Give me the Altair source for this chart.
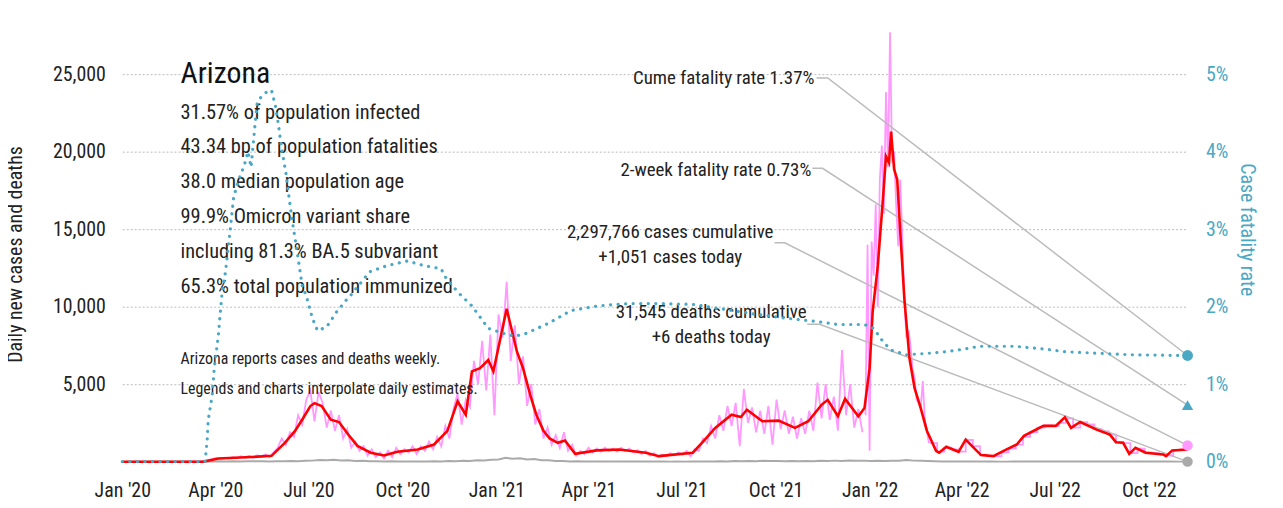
import altair as alt
import pandas as pd

FONT = "'Roboto Condensed', 'DejaVu Sans Condensed', 'Liberation Sans Narrow', 'Arial Narrow', Roboto, sans-serif"
TEAL = "#4aa8c4"
PINK = "#ff99ff"
RED = "#ff0000"
GRAY = "#aaaaaa"
LEADER = "#bbbbbb"
INK = "#222222"

# ---------------- data ----------------
red_dates = ["2020-01-01", "2020-03-20", "2020-04-04", "2020-05-06", "2020-05-26", "2020-06-08",
             "2020-06-18", "2020-06-26", "2020-07-03", "2020-07-07", "2020-07-14", "2020-07-23",
             "2020-07-31", "2020-08-09", "2020-08-18", "2020-08-31", "2020-09-13", "2020-09-26",
             "2020-10-16", "2020-11-01", "2020-11-14", "2020-11-24", "2020-12-02", "2020-12-08",
             "2020-12-16", "2020-12-24", "2020-12-29", "2021-01-11", "2021-01-21", "2021-01-27",
             "2021-02-03", "2021-02-09", "2021-02-16", "2021-02-22", "2021-03-02", "2021-03-09",
             "2021-03-19", "2021-04-09", "2021-05-01", "2021-05-27", "2021-06-09", "2021-07-12",
             "2021-07-21", "2021-08-03", "2021-08-19", "2021-08-28", "2021-09-03", "2021-09-18",
             "2021-10-04", "2021-10-20", "2021-11-02", "2021-11-15", "2021-11-21", "2021-12-01",
             "2021-12-08", "2021-12-21", "2021-12-27", "2022-01-01", "2022-01-04", "2022-01-09",
             "2022-01-14", "2022-01-17", "2022-01-20", "2022-01-22", "2022-01-25", "2022-01-28",
             "2022-01-31", "2022-02-04", "2022-02-09", "2022-02-14", "2022-02-20", "2022-02-26",
             "2022-03-07", "2022-03-10", "2022-03-17", "2022-03-29", "2022-04-05", "2022-04-11",
             "2022-04-20", "2022-05-02", "2022-05-15", "2022-05-25", "2022-06-01", "2022-06-20",
             "2022-07-02", "2022-07-11", "2022-07-17", "2022-07-26", "2022-08-11", "2022-08-24",
             "2022-08-30", "2022-09-06", "2022-09-12", "2022-09-18", "2022-09-28", "2022-10-15",
             "2022-10-18", "2022-10-24", "2022-11-08"]
red_values = [0, 0, 210, 300, 380, 1220,
              1990, 2820, 3590, 3780, 3590, 2710,
              2560, 1750, 1020, 580, 400, 640,
              790, 1110, 1990, 3900, 3030, 5830,
              6030, 6560, 5830, 9870, 7110, 6030,
              4310, 3030, 1990, 1500, 1220, 1370,
              510, 730, 790, 580, 360, 580,
              1220, 2180, 3030, 2880, 3350, 2610,
              2650, 2180, 2610, 3670, 3990, 2930,
              4060, 2930, 3460, 6030, 9680, 12630,
              16920, 19700, 19300, 21300, 18850, 18200,
              14800, 10500, 6670, 4740, 3460, 2000,
              700, 580, 960, 640, 1430, 1020,
              430, 360, 790, 1110, 1670, 2310,
              2310, 2860, 2180, 2560, 2070, 1750,
              1260, 1220, 510, 900, 580, 470,
              360, 730, 790]

# raw daily cases, sampled every 4 days from 2020-03-01
pinkA_values = [0, 0, 0, 5, 20, 60, 120, 170, 240, 180,
                260, 200, 290, 230, 350, 260, 390, 240, 420, 330,
                480, 300, 600, 900, 1500, 1100, 1900, 1600, 3000, 2400,
                4000, 4600, 2600, 4500, 3800, 2200, 3300, 2000, 3000, 1500,
                2100, 900, 1300, 700, 1000, 400, 800, 300, 600, 200,
                700, 300, 900, 500, 800, 600, 1000, 500, 1000, 700,
                1300, 800, 1600, 1000, 2300, 1500, 3400, 4400, 2400, 4000,
                3500, 6500, 5000, 7800, 4600, 8200, 3000, 9500, 8000, 11600,
                6500, 8800, 5000, 6800, 3600, 5000, 2400, 3400, 1500, 2200,
                1100, 1700, 900, 1900, 700, 1100, 400, 700, 500, 900,
                600, 850, 650, 900, 700, 850, 650, 900, 700, 850,
                600, 750, 500, 700, 400, 550, 300, 450, 350, 550,
                400, 600, 450, 700, 350, 800, 700, 1500, 1200, 2300,
                1500, 3000, 2000, 3600, 2300, 3800, 1000, 4700, 2500, 3500,
                1900, 3300, 1800, 3600, 1100, 4000, 2100, 3300, 1800, 2900,
                1500, 2800, 1800, 3300, 2000, 5100, 2800, 5000, 2700, 4200,
                2000, 7200, 3000, 5000, 2200, 3400, 1900]
# raw daily cases every 2 days from 2021-12-28 (Omicron wave)
pinkB_values = [3000, 14000, 700, 14200, 12000, 16600, 10000, 18200, 20400, 16000,
                23850, 19000, 27700, 19300, 20000, 16500, 13900, 18200, 14400, 10500,
                8000, 8500, 7500, 6000, 5400, 4000, 3800, 3460, 5200, 2800,
                2000, 1200]
# weekly reported cases (daily estimate) from 2022-03-01
pinkC_values = [1200, 650, 900, 800, 650, 1400, 1000, 450, 380, 350,
                600, 850, 1100, 1600, 1900, 2200, 2350, 2300, 2500, 2800,
                2200, 2550, 2400, 2100, 1950, 1750, 1250, 1200, 550, 850,
                600, 550, 500, 400, 750, 800, 1051]
# daily deaths, weekly samples from 2020-01-05
deaths_values = [0, 0, 0, 0, 0, 0, 0, 0,
                 0, 0, 0, 5, 15, 25, 20, 30, 20, 35,
                 25, 30, 20, 35, 30, 45, 35, 60, 70, 110,
                 90, 120, 80, 90, 50, 60, 30, 35, 15, 25,
                 10, 20, 10, 20, 15, 25, 20, 40, 35, 60,
                 50, 90, 80, 120, 150, 250, 190, 230, 150, 170,
                 100, 90, 50, 40, 20, 25, 10, 15, 10, 15,
                 10, 15, 10, 12, 8, 12, 8, 12, 6, 10,
                 6, 10, 8, 15, 12, 25, 20, 40, 30, 50,
                 35, 55, 40, 50, 35, 45, 30, 45, 35, 55,
                 45, 70, 50, 80, 60, 70, 50, 60, 45, 65,
                 60, 110, 70, 60, 40, 30,
                 20, 18, 15, 12, 10, 10, 8, 8, 6, 6,
                 8, 10, 12, 12, 15, 15, 18, 18, 20, 20,
                 18, 15, 15, 12, 12, 10, 10, 10, 8, 8,
                 8, 7, 7, 6, 6]

cfr_dates = ["2020-01-01", "2020-03-22", "2020-03-24", "2020-03-25", "2020-03-29", "2020-03-31",
             "2020-04-04", "2020-04-06", "2020-04-08", "2020-04-11", "2020-04-16", "2020-04-19",
             "2020-04-24", "2020-04-29", "2020-05-03", "2020-05-06", "2020-05-10", "2020-05-12",
             "2020-05-16", "2020-05-23", "2020-05-26", "2020-05-30", "2020-06-02", "2020-06-05",
             "2020-06-09", "2020-06-12", "2020-06-15", "2020-06-20", "2020-06-25", "2020-06-29",
             "2020-07-05", "2020-07-10", "2020-07-19", "2020-07-29", "2020-08-08", "2020-08-11",
             "2020-08-30", "2020-09-16", "2020-10-06", "2020-10-22", "2020-11-08", "2020-11-11",
             "2020-11-24", "2020-12-08", "2020-12-24", "2021-01-09", "2021-01-19", "2021-01-29",
             "2021-02-20", "2021-03-15", "2021-04-10", "2021-05-10", "2021-06-10", "2021-07-12",
             "2021-08-10", "2021-09-08", "2021-10-12", "2021-11-10", "2021-12-01", "2021-12-27",
             "2022-01-05", "2022-01-14", "2022-01-22", "2022-02-06", "2022-03-01", "2022-03-17",
             "2022-04-02", "2022-04-19", "2022-05-05", "2022-05-22", "2022-06-07", "2022-06-23",
             "2022-07-10", "2022-07-26", "2022-08-11", "2022-09-13", "2022-11-08"]
cfr_values = [0, 0, 0.27, 0.53, 0.86, 1.21,
              1.63, 1.94, 2.23, 2.45, 3.04, 3.42,
              3.64, 3.81, 4.0, 3.8, 4.37, 4.63,
              4.71, 4.79, 4.79, 4.58, 4.32, 4.03,
              3.73, 3.42, 3.13, 2.71, 2.27, 2.14,
              1.85, 1.69, 1.74, 1.94, 2.10, 2.14,
              2.45, 2.53, 2.59, 2.53, 2.49, 2.40,
              2.19, 2.01, 1.72, 1.65, 1.62, 1.65,
              1.78, 1.95, 2.01, 2.04, 2.04, 2.03,
              1.97, 1.91, 1.85, 1.81, 1.77, 1.77,
              1.72, 1.55, 1.44, 1.38, 1.40, 1.42,
              1.45, 1.49, 1.49, 1.49, 1.47, 1.45,
              1.42, 1.41, 1.40, 1.38, 1.37]

last_date = "2022-11-08"
cume_cfr = 1.37
two_week_cfr = 0.73
cases_today = 1051
deaths_today = 6

x_tick_dates = ["2020-01-01", "2020-04-01", "2020-07-01", "2020-10-01",
                "2021-01-01", "2021-04-01", "2021-07-01", "2021-10-01",
                "2022-01-01", "2022-04-01", "2022-07-01", "2022-10-01"]

stats_lines = ["31.57% of population infected",
               "43.34 bp of population fatalities",
               "38.0 median population age",
               "99.9% Omicron variant share",
               "including 81.3% BA.5 subvariant",
               "65.3% total population immunized"]
note_lines = ["Arizona reports cases and deaths weekly.",
              "Legends and charts interpolate daily estimates."]

# ---------------- helpers ----------------
def ms(d):
    return int(pd.Timestamp(d, tz="UTC").timestamp() * 1000)

def series(start, freq, values):
    dates = pd.date_range(start, periods=len(values), freq=freq).strftime("%Y-%m-%d")
    return pd.DataFrame({"date": list(dates), "value": values})

YMAX = 30000
CFR_MAX = 6.0
to_left = YMAX / CFR_MAX  # percent -> left-axis units

red_df = pd.DataFrame({"date": red_dates, "value": red_values})
pinkA_df = series("2020-03-01", "4D", pinkA_values)
pinkB_df = series("2021-12-28", "2D", pinkB_values)
pinkC_df = series("2022-03-01", "7D", pinkC_values)
deaths_df = series("2020-01-05", "7D", deaths_values)
cfr_df = pd.DataFrame({"date": cfr_dates, "value": [v / 100 for v in cfr_values]})

x_enc = alt.X("date:T",
              scale=alt.Scale(type="utc", domain=[ms("2020-01-01"), ms(last_date)]),
              axis=alt.Axis(values=[ms(d) for d in x_tick_dates], format="%b '%y",
                            labelFontSize=20, labelColor=INK, labelPadding=19,
                            labelFlush=False, labelOverlap=False,
                            ticks=False, domain=False, grid=False, title=None))

left_axis = alt.Axis(values=[5000, 10000, 15000, 20000, 25000, 30000], format=",.0f",
                     labelFontSize=20, labelColor=INK, labelPadding=17,
                     ticks=False, domain=False, grid=True, gridColor="#bbbbbb",
                     gridDash=[2, 2], gridWidth=1,
                     title="Daily new cases and deaths", titleFontSize=20,
                     titleFontWeight="normal", titleColor=INK,
                     titleX=-101, titleY=259, titleBaseline="alphabetic")
y_left = alt.Y("value:Q", scale=alt.Scale(domain=[0, YMAX], nice=False), axis=left_axis)

right_axis = alt.Axis(orient="right", values=[0, 0.01, 0.02, 0.03, 0.04, 0.05, 0.06],
                      format=".0%", labelFontSize=20, labelColor=TEAL, labelPadding=18,
                      ticks=False, domain=False, grid=False,
                      title="Case fatality rate", titleFontSize=20, titleFontWeight="normal",
                      titleColor=TEAL, titleAngle=90, titleX=53, titleBaseline="alphabetic")
y_right = alt.Y("value:Q", scale=alt.Scale(domain=[0, CFR_MAX / 100], nice=False), axis=right_axis)

# ---------------- left-scale layers ----------------
pinkA = alt.Chart(pinkA_df).mark_line(color=PINK, strokeWidth=1.8).encode(x=x_enc, y=y_left)
pinkB = alt.Chart(pinkB_df).mark_line(color=PINK, strokeWidth=1.8).encode(x=x_enc, y=y_left)
pinkC = alt.Chart(pinkC_df).mark_line(color=PINK, strokeWidth=1.8,
                                      interpolate="step-after").encode(x=x_enc, y=y_left)
deaths = alt.Chart(deaths_df).mark_line(color=GRAY, strokeWidth=2).encode(x=x_enc, y=y_left)
red = alt.Chart(red_df).mark_line(color=RED, strokeWidth=2.6).encode(x=x_enc, y=y_left)

leader_rows = []
def leader(name, pts):
    for i, (d, v) in enumerate(pts):
        leader_rows.append({"id": name, "order": i, "date": d, "value": v})

leader("cume", [("2021-11-10", 24760), ("2021-11-21", 24760), (last_date, cume_cfr * to_left)])
leader("twoweek", [("2021-11-06", 18930), ("2021-11-16", 18930), (last_date, two_week_cfr * to_left)])
leader("cases", [("2021-09-30", 14120), ("2021-10-10", 14120), (last_date, cases_today)])
leader("deaths", [("2021-11-01", 8870), ("2021-11-13", 8870), (last_date, deaths_today)])
leaders = alt.Chart(pd.DataFrame(leader_rows)).mark_line(color=LEADER, strokeWidth=1.5).encode(
    x=x_enc, y=y_left, detail="id:N", order="order:Q")

right_ann = pd.DataFrame({
    "date": ["2021-11-08", "2021-11-05"],
    "value": [24760, 18800],
    "label": [f"Cume fatality rate {cume_cfr:.2f}%", f"2-week fatality rate {two_week_cfr:.2f}%"],
})
center_ann = pd.DataFrame({
    "date": ["2021-06-20", "2021-06-20", "2021-07-30", "2021-07-30"],
    "value": [14826, 13224, 9634, 8031],
    "label": ["2,297,766 cases cumulative", f"+{cases_today:,} cases today",
              "31,545 deaths cumulative", f"+{deaths_today} deaths today"],
})
ann_r = alt.Chart(right_ann).mark_text(align="right", baseline="middle", font=FONT,
                                       fontSize=19, color=INK).encode(x=x_enc, y=y_left, text="label:N")
ann_c = alt.Chart(center_ann).mark_text(align="center", baseline="middle", font=FONT,
                                        fontSize=19, color=INK).encode(x=x_enc, y=y_left, text="label:N")

block_x = "2020-02-27"
title_df = pd.DataFrame({"date": [block_x], "value": [24450], "label": ["Arizona"]})
stats_df = pd.DataFrame({"date": [block_x] * len(stats_lines),
                         "value": [22134 - i * 2244 for i in range(len(stats_lines))],
                         "label": stats_lines})
notes_df = pd.DataFrame({"date": [block_x] * len(note_lines),
                         "value": [6301 - i * 1923 for i in range(len(note_lines))],
                         "label": note_lines})
title_t = alt.Chart(title_df).mark_text(align="left", baseline="alphabetic", font=FONT,
                                        fontSize=30, color="#111111").encode(x=x_enc, y=y_left, text="label:N")
stats_t = alt.Chart(stats_df).mark_text(align="left", baseline="alphabetic", font=FONT,
                                        fontSize=20.5, color=INK).encode(x=x_enc, y=y_left, text="label:N")
notes_t = alt.Chart(notes_df).mark_text(align="left", baseline="alphabetic", font=FONT,
                                        fontSize=16, color=INK).encode(x=x_enc, y=y_left, text="label:N")

end_left = pd.DataFrame({"date": [last_date, last_date], "value": [deaths_today, cases_today],
                         "kind": ["deaths", "cases"]})
end_pts = alt.Chart(end_left).mark_point(filled=True, size=110, opacity=1, shape="circle").encode(
    x=x_enc, y=y_left,
    color=alt.Color("kind:N", scale=alt.Scale(domain=["deaths", "cases"], range=[GRAY, PINK]),
                    legend=None))

left = alt.layer(pinkA, pinkB, pinkC, leaders, deaths, red, ann_r, ann_c,
                 title_t, stats_t, notes_t, end_pts)

# ---------------- right-scale layers ----------------
cfr_line = alt.Chart(cfr_df).mark_line(color=TEAL, strokeWidth=3.2, strokeDash=[0.1, 7.5],
                                       strokeCap="round").encode(x=x_enc, y=y_right)
cfr_end = pd.DataFrame({"date": [last_date], "value": [cume_cfr / 100]})
tw_end = pd.DataFrame({"date": [last_date], "value": [two_week_cfr / 100]})
cfr_pt = alt.Chart(cfr_end).mark_point(filled=True, size=120, opacity=1, shape="circle",
                                       color=TEAL).encode(x=x_enc, y=y_right)
tw_pt = alt.Chart(tw_end).mark_point(filled=True, size=130, opacity=1, shape="triangle-up",
                                     color=TEAL).encode(x=x_enc, y=y_right)
right = alt.layer(cfr_line, cfr_pt, tw_pt)

chart = alt.layer(left, right).resolve_scale(y="independent").properties(
    width=1072, height=468,
    autosize=alt.AutoSizeParams(type="none"),
    padding={"left": 115, "top": -13, "right": 88, "bottom": 45},
    background="white",
).configure_view(stroke=None).configure_axis(labelFont=FONT, titleFont=FONT)

chart.save("out.html", embed_options={"renderer": "svg", "actions": False})
